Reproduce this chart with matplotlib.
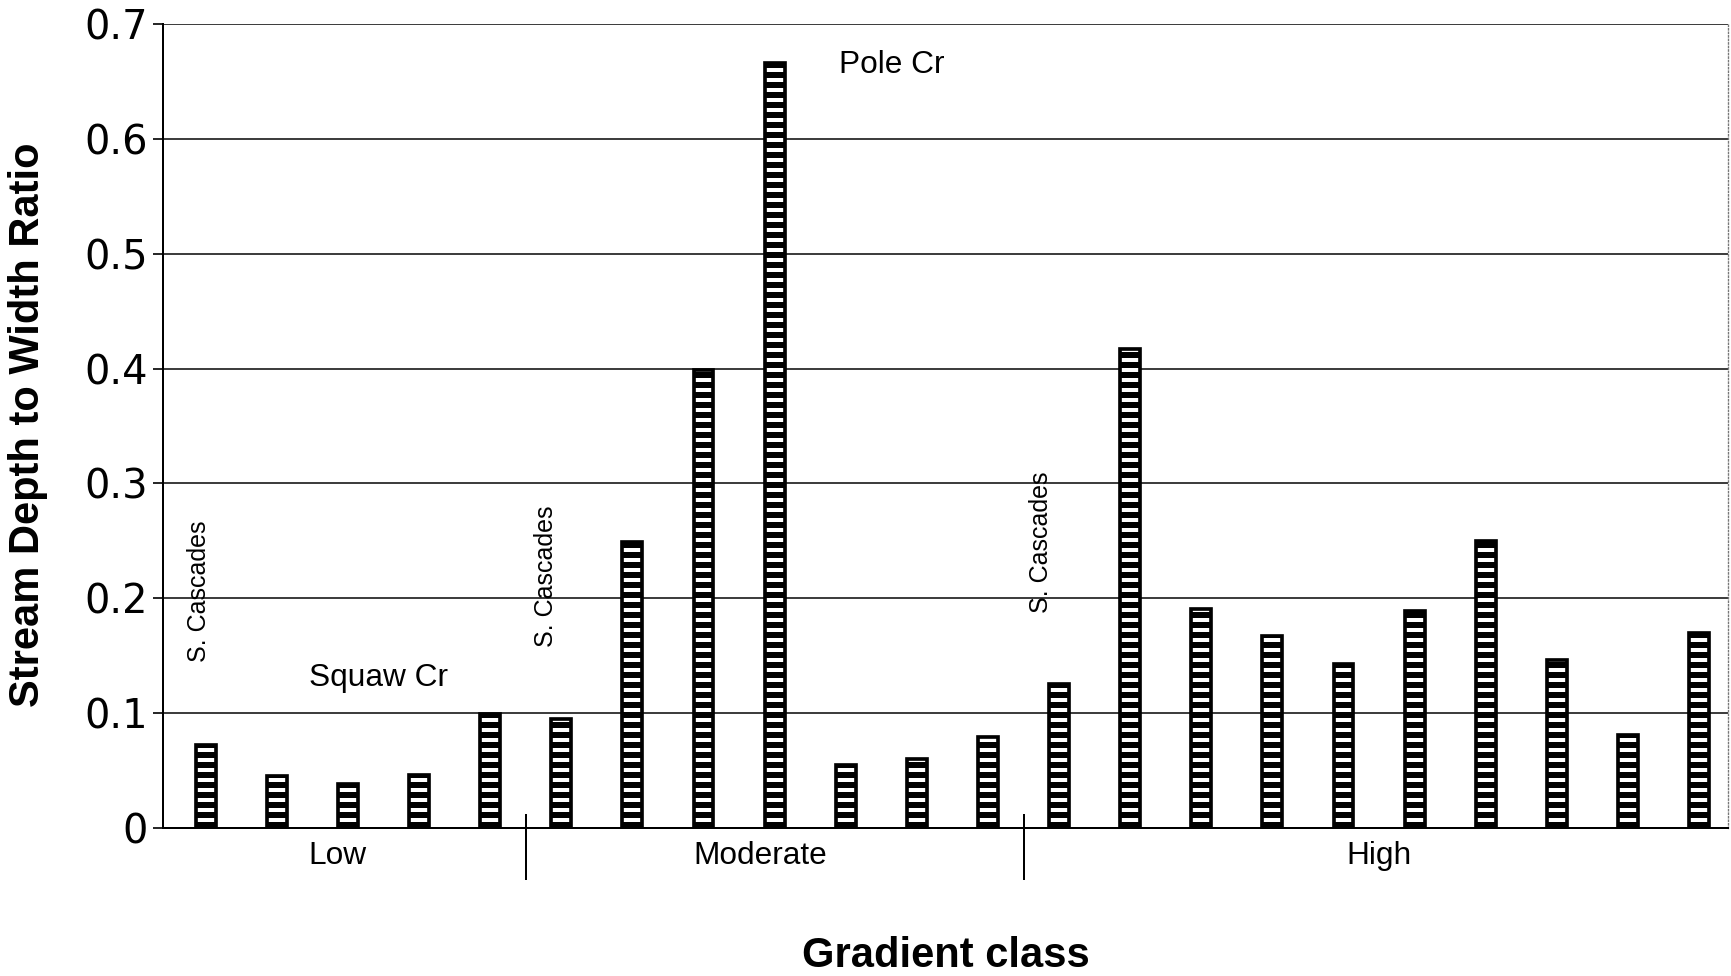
import matplotlib
matplotlib.use('Agg')
import matplotlib.pyplot as plt

# Data
ratios = [0.072, 0.045, 0.038, 0.046, 0.099,
          0.095, 0.249, 0.399, 0.666, 0.055, 0.060, 0.079,
          0.125, 0.417, 0.191, 0.167, 0.143, 0.189, 0.250, 0.146, 0.081, 0.170]
groups = ['Low', 'Moderate', 'High']
group_sizes = [5, 7, 10]
y_ticks = [0, 0.1, 0.2, 0.3, 0.4, 0.5, 0.6, 0.7]
y_tick_labels = ['0', '0.1', '0.2', '0.3', '0.4', '0.5', '0.6', '0.7']

plt.rcParams['font.family'] = ['Liberation Sans', 'DejaVu Sans']
plt.rcParams['hatch.linewidth'] = 3.6

dpi = 120
fig = plt.figure(figsize=(1731 / dpi, 976 / dpi), dpi=dpi)
ax = fig.add_axes([0.0942, 0.1516, 0.9038, 0.8238])

x = list(range(len(ratios)))
ax.bar(x, ratios, width=0.28, facecolor='white', edgecolor='black',
       linewidth=2.2, hatch='--', zorder=3)

ax.set_xlim(-0.6, 21.4)
ax.set_ylim(0, 0.7)
ax.set_yticks(y_ticks)
ax.set_yticklabels(y_tick_labels, fontfamily='DejaVu Sans', fontsize=24)
ax.tick_params(axis='y', length=6, width=1, pad=3, direction='out')
ax.set_xticks([])
ax.grid(axis='y', color='black', linewidth=0.9, zorder=0)

ax.spines['top'].set_visible(False)
ax.spines['right'].set_linestyle(':')
ax.spines['right'].set_color('#777777')
ax.spines['right'].set_linewidth(0.8)
ax.spines['left'].set_linewidth(1.2)
ax.spines['bottom'].set_linewidth(1.2)

# group dividers and labels
group_label_x = [1.85, 7.8, 16.5]
edge = -0.5
for i, (name, n) in enumerate(zip(groups, group_sizes)):
    edge += n
    if i < len(groups) - 1:
        ax.plot([edge, edge], [0.016, -0.063], color='black', linewidth=1.2,
                transform=ax.get_xaxis_transform(), clip_on=False)
    ax.text(group_label_x[i], -0.035, name, ha='center', va='center',
            fontsize=19, transform=ax.get_xaxis_transform())

# annotations
for xs, ys in [(-0.1, 0.206), (4.79, 0.219), (11.75, 0.249)]:
    ax.text(xs, ys, 'S. Cascades', rotation=90, ha='center', va='center',
            fontsize=15, zorder=4)
ax.text(2.43, 0.131, 'Squaw Cr', ha='center', va='center', fontsize=19, zorder=4)
ax.text(9.65, 0.664, 'Pole Cr', ha='center', va='center', fontsize=19, zorder=4)

fig.text(0.5466, 0.021, 'Gradient class', ha='center', va='center',
         fontsize=25, fontweight='bold')
fig.text(0.016, 0.5645, 'Stream Depth to Width Ratio', ha='center', va='center',
         rotation=90, fontsize=25, fontweight='bold')

fig.savefig('out.png', dpi=dpi)
